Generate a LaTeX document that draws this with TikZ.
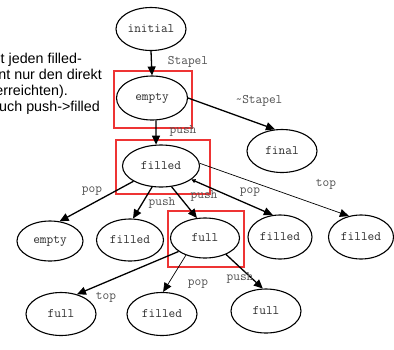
\documentclass[tikz,border=0pt]{standalone}
\usepackage{fontspec}
\setmainfont{Liberation Sans}
\usetikzlibrary{shapes.geometric,arrows.meta}
\definecolor{boxred}{RGB}{238,52,52}
\definecolor{statetext}{RGB}{45,45,45}
\definecolor{labeltext}{RGB}{80,80,80}

\begin{document}
\begin{tikzpicture}[x=1pt,y=-1pt,
    state/.style={ellipse,draw,line width=1.1pt,minimum width=70pt,minimum height=43pt,inner sep=0pt,font=\ttfamily\fontsize{13}{13}\selectfont,text=statetext},
    lbl/.style={font=\ttfamily\fontsize{13}{13}\selectfont,text=labeltext,inner sep=0pt},
    note/.style={anchor=base east,font=\fontsize{14.3}{16}\selectfont,inner sep=0pt},
    trans/.style={line width=1.3pt,-{Triangle[length=9pt,width=8pt]}},
    thintrans/.style={line width=0.7pt,-{Triangle[length=9pt,width=8pt]}},
    markbox/.style={draw=boxred,line width=1.6pt}]
  \useasboundingbox (0,0) rectangle (394,349);
  \clip (0,0) rectangle (394,349);

  % cut-off note on the left
  \node[note] (note1) at (82,63) {t jeden filled-};
  \node[note] (note2) at (102,79) {nt nur den direkt};
  \node[note] (note3) at (68,95) {(erreichten).};
  \node[note] (note4) at (100,111) {uch push->filled};

  % states
  \node[state] (initial) at (151,29) {initial};
  \node[state,minimum width=71pt,minimum height=44pt] (empty) at (152,98) {empty};
  \node[state] (final) at (282,151) {final};
  \node[state,minimum width=77pt,minimum height=42pt] (filled) at (161,166) {filled};
  \node[state,minimum width=66pt,minimum height=40pt] (emptyB) at (50,241) {empty};
  \node[state,minimum width=67pt,minimum height=42pt] (filledB) at (130,240) {filled};
  \node[state,minimum width=69pt,minimum height=40pt] (full) at (205,238) {full};
  \node[state,minimum width=64pt,minimum height=44pt] (filledC) at (280,237) {filled};
  \node[state,minimum width=65pt,minimum height=44pt] (filledD) at (361,237) {filled};
  \node[state] (fullB) at (61,314) {full};
  \node[state] (filledE) at (162,314) {filled};
  \node[state,minimum height=44pt] (fullC) at (266,311) {full};

  % red marks
  \draw[markbox] (114,71) rectangle (192,128);
  \draw[markbox] (116,140) rectangle (210,194);
  \draw[markbox] (168,211) rectangle (244,267);

  % transitions
  \draw[trans] (initial.south) -- (empty.north);
  \draw[trans] (empty.east) -- (final.108);
  \draw[trans] (empty.-80) -- (filled.103);
  \draw[trans] (filled.-151) -- (emptyB.64);
  \draw[trans] (filled.-113) -- (filledB.82);
  \draw[trans] (filled.-63) -- (full.112);
  \draw[trans,{Triangle[length=4pt,width=4pt]}-{Triangle[length=9pt,width=8pt]}] (filled.-24) -- (filledC.108);
  \draw[thintrans] (filled.4) -- (filledD.120);
  \draw[trans] (full.-153) -- (fullB.51);
  \draw[thintrans] (full.-138) -- (filledE.87);
  \draw[trans] (full.-38) -- (fullC.98);

  % labels
  \node[lbl] (lStapel) at (188,62) {Stapel};
  \node[lbl] (lnStapel) at (259,101) {\textasciitilde Stapel};
  \node[lbl] (lpushA) at (183,131) {push};
  \node[lbl] (lpopA) at (92,191) {pop};
  \node[lbl] (lpushB) at (162,203) {push};
  \node[lbl] (lpushC) at (204,196) {push};
  \node[lbl] (lpopB) at (250,192) {pop};
  \node[lbl] (ltopA) at (326,184) {top};
  \node[lbl] (ltopB) at (106,297) {top};
  \node[lbl] (lpopC) at (198,284) {pop};
  \node[lbl] (lpushD) at (240,278) {push};
\end{tikzpicture}
\end{document}
